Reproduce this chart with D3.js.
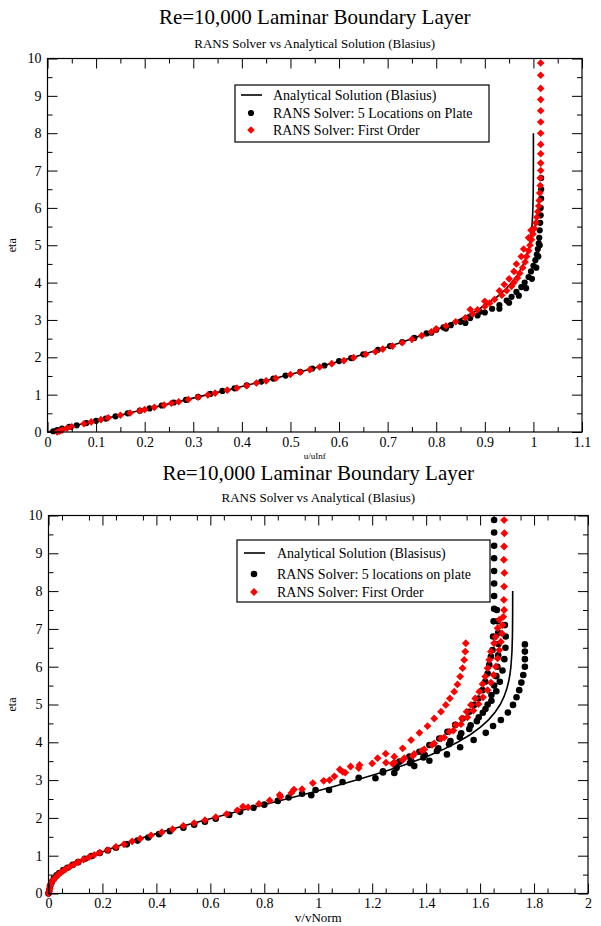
<!DOCTYPE html>
<html><head><meta charset="utf-8">
<script src="https://cdn.jsdelivr.net/npm/d3@7"></script>
<style>
body{margin:0;background:#fff;}
svg{display:block;}
text{font-family:"Liberation Serif","DejaVu Serif","Times New Roman",serif;fill:#000;}
</style></head><body>
<svg id="c" width="601" height="926"></svg>
<script>
// ---------- DATA ----------
const blasiusEta = [0,0.2,0.4,0.6,0.8,1.0,1.2,1.4,1.6,1.8,2.0,2.2,2.4,2.6,2.8,3.0,3.2,3.4,3.6,3.8,4.0,4.2,4.4,4.6,4.8,5.0,5.2,5.4,5.6,5.8,6.0,6.4,6.8,7.2,7.6,8.0];
const blasiusU = [0,0.06641,0.13277,0.19894,0.26471,0.32979,0.39378,0.45627,0.51676,0.57477,0.62977,0.68132,0.72899,0.77246,0.81152,0.84605,0.87609,0.90177,0.92333,0.94112,0.95552,0.96696,0.97587,0.98269,0.98779,0.99155,0.99425,0.99616,0.99748,0.99838,0.99898,0.99961,0.99987,0.99996,0.99999,1.0];
const blasiusV = [0,0.00664,0.02655,0.05962,0.10566,0.16422,0.23459,0.3158,0.4065,0.50507,0.60951,0.7177,0.82728,0.93588,1.04127,1.14133,1.23438,1.31906,1.39445,1.46021,1.51632,1.56317,1.60145,1.63211,1.65605,1.67446,1.68821,1.69832,1.70558,1.7107,1.71424,1.71812,1.71984,1.72046,1.72068,1.72077];

// top chart: [u/uInf, eta]
const topBlack = [[0.012,0.02],[0.02,0.05],[0.03,0.09],[0.045,0.14],[0.06,0.18],[0.08,0.24],[0.1,0.3],[0.12,0.36],[0.14,0.42],[0.165,0.5],[0.19,0.57],[0.21,0.63],[0.235,0.71],[0.26,0.79],[0.285,0.86],[0.31,0.94],[0.335,1.02],[0.36,1.1],[0.385,1.17],[0.41,1.25],[0.44,1.35],[0.465,1.43],[0.49,1.51],[0.52,1.61],[0.545,1.7],[0.57,1.78],[0.6,1.9],[0.625,1.98],[0.65,2.08],[0.68,2.2],[0.705,2.3],[0.73,2.41],[0.755,2.52],[0.78,2.64],[0.8,2.74],[0.815,2.8],[0.83,2.86],[0.85,2.95],[0.87,3.05],[0.885,3.12],[0.9,3.2],[0.915,3.3],[0.93,3.4],[0.945,3.52],[0.955,3.62],[0.965,3.75],[0.975,3.88],[0.982,4.0],[0.99,4.15],[0.995,4.3],[1.0,4.45],[1.004,4.6],[1.007,4.75],[1.009,4.9],[1.011,5.05],[1.012,5.2],[1.013,5.4],[1.014,5.6],[1.015,5.8],[1.015,6.0],[1.016,6.25],[1.016,6.5],[1.016,6.8],[0.79,2.66],[0.82,2.77],[0.86,2.92],[0.89,3.22],[0.93,3.3],[0.95,3.46],[0.97,3.65],[0.985,3.85],[0.997,4.1],[1.006,4.4],[1.01,4.7],[1.013,5.0]];
const topRed = [[0.02,0.0],[0.025,0.02],[0.03,0.05],[0.04,0.1],[0.05,0.14],[0.075,0.22],[0.09,0.27],[0.11,0.33],[0.125,0.38],[0.15,0.45],[0.17,0.51],[0.19,0.57],[0.2,0.6],[0.22,0.66],[0.24,0.72],[0.255,0.77],[0.27,0.81],[0.29,0.87],[0.31,0.93],[0.33,0.99],[0.345,1.04],[0.37,1.12],[0.39,1.18],[0.41,1.24],[0.43,1.31],[0.45,1.37],[0.47,1.44],[0.5,1.54],[0.52,1.6],[0.54,1.67],[0.56,1.74],[0.585,1.83],[0.61,1.91],[0.63,1.99],[0.655,2.08],[0.675,2.15],[0.69,2.22],[0.71,2.3],[0.73,2.39],[0.75,2.48],[0.77,2.58],[0.79,2.68],[0.8,2.76],[0.82,2.84],[0.84,2.95],[0.86,3.06],[0.875,3.16],[0.885,3.27],[0.9,3.36],[0.91,3.45],[0.92,3.55],[0.935,3.66],[0.945,3.78],[0.955,3.9],[0.96,4.0],[0.967,4.12],[0.972,4.25],[0.978,4.4],[0.983,4.55],[0.986,4.7],[0.99,4.85],[0.993,5.0],[0.996,5.15],[0.999,5.3],[1.002,5.45],[1.005,5.6],[1.007,5.75],[1.009,5.9],[1.011,6.05],[1.012,6.2],[1.013,6.4],[1.014,6.6],[1.014,6.8],[1.015,7.0],[1.015,7.2],[1.015,7.45],[1.015,7.7],[1.015,8.0],[1.015,8.3],[1.015,8.6],[1.015,8.9],[1.015,9.2],[1.015,9.55],[1.015,9.88],[0.93,3.78],[0.95,4.1],[0.965,4.5],[0.98,4.9],[0.995,5.4],[0.9,3.5],[0.87,3.28],[0.94,3.95],[0.96,4.3],[0.975,4.7],[0.99,5.2]];

// bottom chart: [v/vNorm, eta]
const botBlack = [[0.0,0.0],[0.003,0.1],[0.006,0.2],[0.012,0.3],[0.02,0.4],[0.03,0.48],[0.04,0.54],[0.055,0.62],[0.07,0.68],[0.09,0.76],[0.11,0.83],[0.135,0.92],[0.16,0.99],[0.19,1.07],[0.22,1.14],[0.25,1.21],[0.29,1.3],[0.33,1.4],[0.37,1.48],[0.41,1.57],[0.45,1.65],[0.5,1.74],[0.54,1.82],[0.58,1.9],[0.62,1.98],[0.67,2.08],[0.71,2.16],[0.76,2.27],[0.8,2.35],[0.85,2.45],[0.89,2.54],[0.94,2.64],[0.974,2.6],[0.99,2.74],[1.04,2.74],[1.09,2.95],[1.15,3.06],[1.212,3.05],
  [1.282,3.19],[1.356,3.37],[1.412,3.51],[1.477,3.68],[1.526,3.87],[1.576,4.06],[1.621,4.25],[1.648,4.43],[1.677,4.59],[1.703,4.79],[1.722,4.99],[1.735,5.19],[1.745,5.38],[1.753,5.58],[1.76,5.78],[1.766,6.0],[1.766,6.2],[1.766,6.4],[1.766,6.59],
  [1.652,9.88],[1.652,9.55],[1.652,9.2],[1.652,8.87],[1.652,8.53],[1.652,8.2],[1.652,7.87],[1.652,7.53],[1.65,7.2],[1.648,6.8],[1.646,6.44],[1.64,6.27],[1.634,6.05],[1.628,5.82],[1.619,5.6],[1.609,5.38],[1.594,5.16],[1.578,4.99],[1.56,4.81],[1.535,4.63],[1.508,4.46],[1.479,4.28],[1.449,4.1],[1.412,3.93],[1.375,3.75],[1.338,3.62],[1.301,3.49],
  [1.662,7.5],[1.665,7.2],[1.667,6.9],[1.668,6.6],[1.667,6.3],[1.664,6.0],[1.66,5.75],[1.652,5.5],[1.642,5.25],[1.628,5.0],[1.61,4.78],[1.588,4.56],[1.56,4.35],[1.525,4.14],[1.485,3.95],[1.44,3.77],[1.39,3.6],[1.34,3.45],[1.29,3.32],[1.24,3.2],
  [1.692,7.1],[1.695,6.8],[1.694,6.5],[1.69,6.2],[1.683,5.9],[1.673,5.6],[1.66,5.35],[1.642,5.1],[1.62,4.88],[1.595,4.66],[1.565,4.45],[1.53,4.24],[1.49,4.03],[1.445,3.84],[1.395,3.66],[1.345,3.5],[1.29,3.35],[1.24,3.23]];
const botRed = [[0.0,0.0],[0.002,0.05],[0.004,0.12],[0.006,0.2],[0.01,0.27],[0.015,0.33],[0.02,0.38],[0.027,0.43],[0.035,0.49],[0.045,0.55],[0.055,0.6],[0.065,0.65],[0.08,0.71],[0.095,0.77],[0.11,0.83],[0.13,0.9],[0.15,0.96],[0.17,1.02],[0.19,1.08],[0.22,1.15],[0.25,1.23],[0.28,1.3],[0.31,1.38],[0.34,1.45],[0.38,1.54],[0.42,1.62],[0.46,1.7],[0.5,1.79],[0.54,1.86],[0.58,1.94],[0.62,2.02],[0.66,2.1],[0.7,2.2],[0.721,2.3],[0.74,2.28],[0.78,2.37],[0.82,2.46],[0.857,2.61],[0.86,2.56],[0.9,2.66],[0.94,2.76],[0.98,2.92],[1.02,2.98],[1.042,3.0],[1.06,3.1],[1.091,3.22],[1.1,3.2],[1.153,3.4],[1.15,3.32],[1.2,3.44],[1.22,3.58],[1.25,3.7],[0.91,2.75],[1.08,3.28],[1.12,3.36],
  [1.547,6.62],[1.545,6.4],[1.541,6.18],[1.535,5.96],[1.526,5.74],[1.516,5.53],[1.504,5.34],[1.488,5.16],[1.473,4.99],[1.455,4.81],[1.43,4.63],[1.405,4.43],[1.375,4.25],[1.344,4.06],[1.313,3.84],[1.282,3.62],[1.251,3.46],
  [1.671,7.24],[1.665,7.02],[1.658,6.79],[1.652,6.62],[1.64,6.4],[1.634,6.18],[1.628,5.96],[1.619,5.74],[1.609,5.54],[1.597,5.34],[1.582,5.16],[1.566,4.99],[1.55,4.81],[1.533,4.63],[1.51,4.46],[1.486,4.28],[1.455,4.1],[1.422,3.93],[1.385,3.78],[1.35,3.64],[1.313,3.53],[1.276,3.43],
  [1.689,9.88],[1.69,9.53],[1.689,9.18],[1.688,8.83],[1.69,8.48],[1.689,8.12],[1.688,7.77],[1.689,7.5],[1.686,7.32],[1.683,7.1],[1.681,6.88],[1.677,6.66],[1.671,6.44],[1.665,6.22],[1.658,6.0],[1.65,5.78],[1.64,5.58],[1.628,5.38],[1.611,5.19],[1.594,5.01],[1.575,4.84],[1.553,4.66],[1.529,4.48],[1.501,4.31],[1.467,4.13],[1.43,3.97],[1.393,3.81],[1.356,3.69],[1.319,3.58],[1.282,3.47]];

const yTickVals = [0,1,2,3,4,5,6,7,8,9,10];
const yTickLabels = ["0","1","2","3","4","5","6","7","8","9","10"];
const topXTickVals = [0,0.1,0.2,0.3,0.4,0.5,0.6,0.7,0.8,0.9,1.0,1.1];
const topXTickLabels = ["0","0.1","0.2","0.3","0.4","0.5","0.6","0.7","0.8","0.9","1","1.1"];
const botXTickVals = [0,0.2,0.4,0.6,0.8,1.0,1.2,1.4,1.6,1.8,2.0];
const botXTickLabels = ["0","0.2","0.4","0.6","0.8","1","1.2","1.4","1.6","1.8","2"];

// ---------- DRAW ----------
const svg = d3.select("#c");
const FONT = '"Liberation Serif","DejaVu Serif",serif';

function panel(cfg){
  const g = svg.append("g");
  const x = d3.scaleLinear().domain(cfg.xDomain).range(cfg.xRange);
  const y = d3.scaleLinear().domain([0,10]).range(cfg.yRange);
  const [L,R] = cfg.xRange, [B,T] = cfg.yRange;

  g.append("text").attr("x",(L+R)/2).attr("y",cfg.titleY).attr("text-anchor","middle")
    .attr("font-size",21).text(cfg.title);
  g.append("text").attr("x",(L+R)/2).attr("y",cfg.subY).attr("text-anchor","middle")
    .attr("font-size",13).text(cfg.subtitle);

  const line = d3.line().x(d=>x(d[0])).y(d=>y(d[1]));
  const lineData = cfg.lineX.map((v,i)=>[v, blasiusEta[i]]);
  g.append("path").datum(lineData).attr("d",line).attr("fill","none")
    .attr("stroke","#000").attr("stroke-width",1.6);

  g.append("g").selectAll("circle").data(cfg.black).join("circle")
    .attr("cx",d=>x(d[0])).attr("cy",d=>y(d[1])).attr("r",cfg.r).attr("fill","#000");
  const s = cfg.dia;
  g.append("g").selectAll("path").data(cfg.red).join("path")
    .attr("d",d=>{const cx=x(d[0]), cy=y(d[1]); return `M${cx},${cy-s}L${cx+s},${cy}L${cx},${cy+s}L${cx-s},${cy}Z`;})
    .attr("fill","#ff0000");

  const xMinor = d3.range(cfg.xDomain[0]+cfg.xStep/2, cfg.xDomain[1], cfg.xStep);
  const yMinor = d3.range(0.5,10,1);
  const style = sel => { sel.select(".domain").remove(); sel.selectAll("line").attr("stroke","#000");
    sel.selectAll("text").attr("font-family",FONT).attr("font-size",14).attr("fill","#000"); };

  g.append("g").attr("transform",`translate(0,${B})`)
    .call(d3.axisBottom(x).tickValues(cfg.xTicks).tickFormat((d,i)=>cfg.xLabels[i]).tickSize(-10).tickPadding(5)).call(style);
  g.append("g").attr("transform",`translate(0,${B})`)
    .call(d3.axisBottom(x).tickValues(xMinor).tickFormat("").tickSize(-5)).call(style);
  g.append("g").attr("transform",`translate(0,${T})`)
    .call(d3.axisTop(x).tickValues(cfg.xTicks).tickFormat("").tickSize(-10)).call(style);
  g.append("g").attr("transform",`translate(0,${T})`)
    .call(d3.axisTop(x).tickValues(xMinor).tickFormat("").tickSize(-5)).call(style);
  g.append("g").attr("transform",`translate(${L},0)`)
    .call(d3.axisLeft(y).tickValues(yTickVals).tickFormat((d,i)=>yTickLabels[i]).tickSize(-10).tickPadding(6)).call(style);
  g.append("g").attr("transform",`translate(${L},0)`)
    .call(d3.axisLeft(y).tickValues(yMinor).tickFormat("").tickSize(-5)).call(style);
  g.append("g").attr("transform",`translate(${R},0)`)
    .call(d3.axisRight(y).tickValues(yTickVals).tickFormat("").tickSize(-10)).call(style);
  g.append("g").attr("transform",`translate(${R},0)`)
    .call(d3.axisRight(y).tickValues(yMinor).tickFormat("").tickSize(-5)).call(style);

  g.append("rect").attr("x",L).attr("y",T).attr("width",R-L).attr("height",B-T)
    .attr("fill","none").attr("stroke","#000").attr("stroke-width",1.2);

  g.append("text").attr("x",(L+R)/2).attr("y",cfg.xLabelY).attr("text-anchor","middle")
    .attr("font-size",cfg.xLabelSize).text(cfg.xLabel);
  g.append("text").attr("transform",`translate(${cfg.yLabelX},${(T+B)/2}) rotate(-90)`)
    .attr("text-anchor","middle").attr("font-size",12).text("eta");

  const lg = cfg.legend;
  g.append("rect").attr("x",lg.x).attr("y",lg.y).attr("width",lg.w).attr("height",lg.h)
    .attr("fill","#fff").attr("stroke","#000").attr("stroke-width",1.2);
  lg.labels.forEach((t,i)=>{
    const yy = lg.rowY[i];
    if(i===0) g.append("line").attr("x1",lg.symX-10).attr("x2",lg.symX+11).attr("y1",yy).attr("y2",yy)
      .attr("stroke","#000").attr("stroke-width",1.6);
    else if(i===1) g.append("circle").attr("cx",lg.symX).attr("cy",yy).attr("r",cfg.r).attr("fill","#000");
    else g.append("path").attr("d",`M${lg.symX},${yy-s}L${lg.symX+s},${yy}L${lg.symX},${yy+s}L${lg.symX-s},${yy}Z`).attr("fill","#ff0000");
    g.append("text").attr("x",lg.textX).attr("y",yy+5).attr("font-size",14).text(t);
  });
}

panel({
  xDomain:[0,1.1], xRange:[47.5,582], yRange:[432,58.5], xStep:0.1,
  xTicks: topXTickVals, xLabels: topXTickLabels,
  title:"Re=10,000 Laminar Boundary Layer", titleY:24,
  subtitle:"RANS Solver vs Analytical Solution (Blasius)", subY:48,
  lineX: blasiusU, black: topBlack, red: topRed, r:3.1, dia:3.8,
  xLabel:"u/uInf", xLabelY:459, xLabelSize:9, yLabelX:16,
  legend:{x:235,y:85,w:254,h:57,symX:251,textX:273,rowY:[95,113,130],
    labels:["Analytical Solution (Blasius)","RANS Solver: 5 Locations on Plate","RANS Solver: First Order"]}
});
panel({
  xDomain:[0,2], xRange:[48.5,588], yRange:[893.5,515.5], xStep:0.1,
  xTicks: botXTickVals, xLabels: botXTickLabels,
  title:"Re=10,000 Laminar Boundary Layer", titleY:480,
  subtitle:"RANS Solver vs Analytical (Blasius)", subY:502,
  lineX: blasiusV, black: botBlack, red: botRed, r:3.3, dia:3.9,
  xLabel:"v/vNorm", xLabelY:922, xLabelSize:13, yLabelX:16,
  legend:{x:237,y:540,w:253,h:62,symX:254,textX:277,rowY:[553,574,592],
    labels:["Analytical Solution (Blasisus)","RANS Solver: 5 locations on plate","RANS Solver: First Order"]}
});
</script>
</body></html>
